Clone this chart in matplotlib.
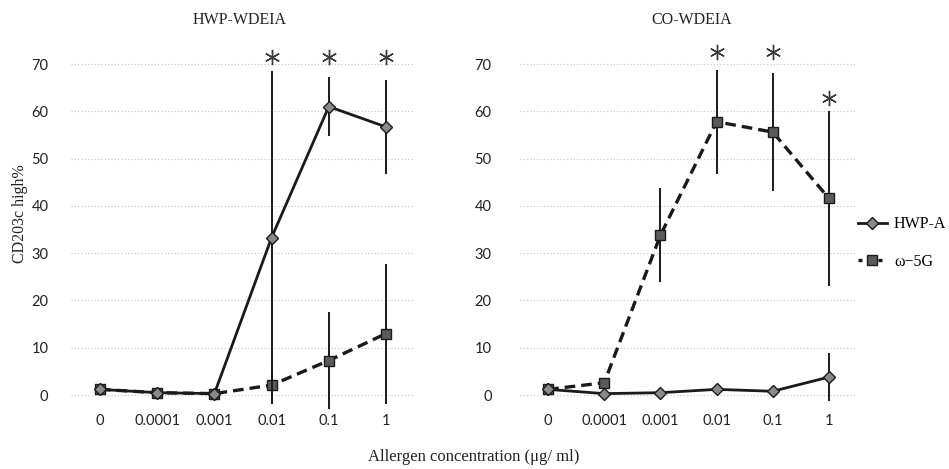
import matplotlib
matplotlib.use('Agg')
import matplotlib.pyplot as plt
from matplotlib.lines import Line2D

# ---- data ----
concentrations = ['0', '0.0001', '0.001', '0.01', '0.1', '1']
series_names = ['HWP-A', 'ω\u22125G']
panel_titles = ['HWP-WDEIA', 'CO-WDEIA']

hwp_wdeia_hwpa = [1.2, 0.5, 0.3, 33.3, 61.0, 56.7]
hwp_wdeia_hwpa_err = [0.8, 0.5, 0.5, 35.2, 6.3, 10.0]
hwp_wdeia_o5g = [1.2, 0.5, 0.3, 2.1, 7.3, 13.0]
hwp_wdeia_o5g_err = [0.8, 0.5, 0.5, 3.0, 10.2, 14.8]

co_wdeia_hwpa = [1.2, 0.3, 0.5, 1.2, 0.8, 3.8]
co_wdeia_hwpa_err = [1.0, 0.5, 0.5, 1.2, 0.6, 5.0]
co_wdeia_o5g = [1.2, 2.6, 33.8, 57.8, 55.6, 41.6]
co_wdeia_o5g_err = [1.3, 1.0, 10.0, 11.0, 12.5, 18.5]

# asterisk (significance) heights per concentration (None = no mark)
hwp_wdeia_star = [None, None, None, 71.5, 71.5, 71.5]
co_wdeia_star = [None, None, None, 72.5, 72.5, 62.8]

yticks = [0, 10, 20, 30, 40, 50, 60, 70]

W, H = 949, 469
fig = plt.figure(figsize=(W / 100, H / 100), dpi=100)

serif = ['Liberation Serif', 'DejaVu Serif']
sans = ['Lato', 'DejaVu Sans']

ax_bottom = 1 - 411.6 / H
ax_height = (411.6 - 45.1) / H
axL = fig.add_axes([71.4 / W, ax_bottom, 343.2 / W, ax_height])
axR = fig.add_axes([520.0 / W, ax_bottom, 337.0 / W, ax_height])

panels = [
    (axL, hwp_wdeia_hwpa, hwp_wdeia_hwpa_err, hwp_wdeia_o5g, hwp_wdeia_o5g_err, hwp_wdeia_star, 16.5),
    (axR, co_wdeia_hwpa, co_wdeia_hwpa_err, co_wdeia_o5g, co_wdeia_o5g_err, co_wdeia_star, 20.5),
]

x = list(range(len(concentrations)))

for ax, a, ae, b, be, stars, ypad in panels:
    ax.errorbar(x, b, yerr=be, color='#1a1a1a', lw=2.4, ls=(0, (3.2, 1.8)),
                marker='s', ms=6.5, mfc='#5a5a5a', mec='#1a1a1a', mew=1.0,
                ecolor='#1a1a1a', elinewidth=1.4, capsize=0, clip_on=False, zorder=3)
    ax.errorbar(x, a, yerr=ae, color='#1a1a1a', lw=2.0, ls='-',
                marker='D', ms=6, mfc='#8a8a8a', mec='#1a1a1a', mew=1.0,
                ecolor='#1a1a1a', elinewidth=1.4, capsize=0, clip_on=False, zorder=4)
    sx = [xi for xi, s in zip(x, stars) if s is not None]
    sy = [s for s in stars if s is not None]
    ax.plot(sx, sy, ls='none', marker=(6, 2, 0), ms=11, mew=1.0,
            color='#3a3a3a', clip_on=False, zorder=5)
    ax.set_xlim(-0.5, len(concentrations) - 0.5)
    ax.set_ylim(-3.5, 74)
    ax.set_xticks(x)
    ax.set_xticklabels(concentrations, family=sans, fontsize=10.5, color='#222222')
    ax.set_yticks(yticks)
    ax.set_yticklabels([str(v) for v in yticks], family=sans, fontsize=10.5, color='#222222')
    ax.tick_params(axis='both', length=0)
    ax.tick_params(axis='y', pad=ypad)
    ax.tick_params(axis='x', pad=1.5)
    for sp in ax.spines.values():
        sp.set_visible(False)
    ax.yaxis.grid(True, color='#c4c4c4', ls=(0, (1, 2)), lw=0.8)
    ax.set_axisbelow(True)

fig.text(240 / W, 1 - 20 / H, panel_titles[0], ha='center', va='center',
         family=serif, fontsize=11.5, color='#222222')
fig.text(692 / W, 1 - 20 / H, panel_titles[1], ha='center', va='center',
         family=serif, fontsize=11.5, color='#222222')
fig.text(20 / W, 1 - 214 / H, 'CD203c high%', rotation=90, ha='center', va='center',
         family=serif, fontsize=11.5, color='#222222')
fig.text(474 / W, 1 - 457 / H, 'Allergen concentration (\u03bcg/ ml)', ha='center', va='center',
         family=serif, fontsize=12, color='#222222')

handles = [
    Line2D([0], [0], color='#1a1a1a', lw=2.0, ls='-', marker='D', ms=6,
           mfc='#8a8a8a', mec='#1a1a1a'),
    Line2D([0], [0], color='#1a1a1a', lw=2.4, ls=(0, (1.2, 1.8)), marker='s', ms=6.5,
           mfc='#5a5a5a', mec='#1a1a1a'),
]
fig.legend(handles, series_names, loc='center left', bbox_to_anchor=(858 / W, 1 - 243 / H),
           frameon=False, prop={'family': serif, 'size': 11.5}, handlelength=1.8,
           handletextpad=0.45, labelspacing=1.35, numpoints=1, borderpad=0, borderaxespad=0)

fig.savefig('out.png', dpi=100)
